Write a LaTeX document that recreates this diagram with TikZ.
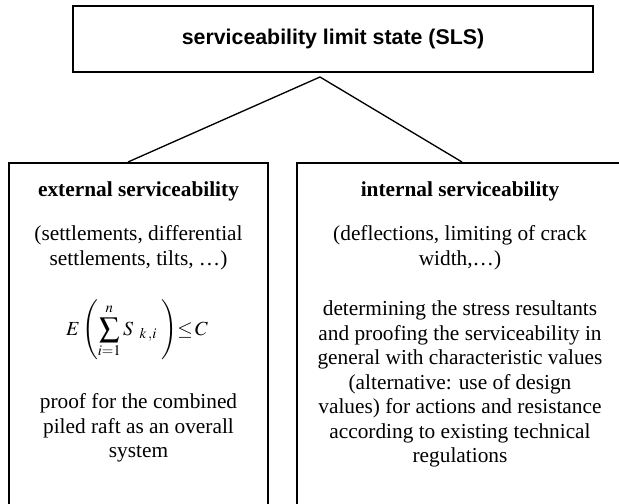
\documentclass[tikz,border=0pt]{standalone}
\usepackage{mathptmx}
\usepackage{fontspec}
\setmainfont{Liberation Serif}
\newfontfamily\arialfont{Liberation Sans}

\tikzset{every picture/.style={line width=0.75pt}}
\tikzset{
  slsbox/.style={draw, line width=1.2pt, inner sep=0pt},
  checkbox/.style={draw, line width=1.4pt, inner sep=0pt, anchor=north},
  blocktext/.style={inner sep=0pt, align=center, font=\fontsize{16}{18.4}\selectfont},
  headtext/.style={inner sep=0pt, anchor=base, font=\bfseries\fontsize{16}{18.4}\selectfont},
}

\begin{document}
\begin{tikzpicture}[x=0.75pt,y=0.75pt,yscale=-1,xscale=1]
\useasboundingbox (0,0) rectangle (619,504);
\clip (0,0) rectangle (619,504);

%Shape: Rectangle [id:sls]
\draw (333,39) node (sls) [slsbox, minimum width=390pt, minimum height=49.5pt] {\arialfont\bfseries\fontsize{16}{18}\selectfont serviceability limit state (SLS)};
%Shape: Rectangle [id:ext]
\draw (138.5,162) node (ext) [checkbox, minimum width=194.25pt, minimum height=276pt] {};
%Shape: Rectangle [id:int]
\draw (460,162) node (int) [checkbox, minimum width=244.5pt, minimum height=276pt] {};

%Straight Lines [id:fork]
\coordinate (fork) at (320,77);
\coordinate (extjoin) at (128,162);
\coordinate (intjoin) at (462,162);
\draw [line width=1pt] (extjoin) -- (fork) -- (intjoin);

% Text Node
\draw (138.5,196) node (exthead) [headtext] {external serviceability};
% Text Node
\draw (138.5,248) node (extcases) [blocktext] {(settlements, differential\\settlements, tilts, \ldots)};
% Text Node
\draw (137,330) node (extproof) [inner sep=0pt, font=\fontsize{15}{18.4}\selectfont] {$\displaystyle E\left(\sum_{i=1}^{n\rule[-2.5pt]{0pt}{0pt}} S_{\;\;k\,,i}\;\right)\!{\leq}\, C$};
% Text Node
\draw (138.5,428) node (extnote) [blocktext] {proof for the combined\\piled raft as an overall\\system};

% Text Node
\draw (460,196) node (inthead) [headtext] {internal serviceability};
% Text Node
\draw (460,248) node (intcases) [blocktext] {(deflections, limiting of crack\\width,\ldots)};
% Text Node
\draw (460,384) node (intnote) [blocktext] {determining the stress resultants\\and proofing the serviceability in\\general with characteristic values\\(alternative: use of design\\values) for actions and resistance\\according to existing technical\\regulations};

\end{tikzpicture}
\end{document}
